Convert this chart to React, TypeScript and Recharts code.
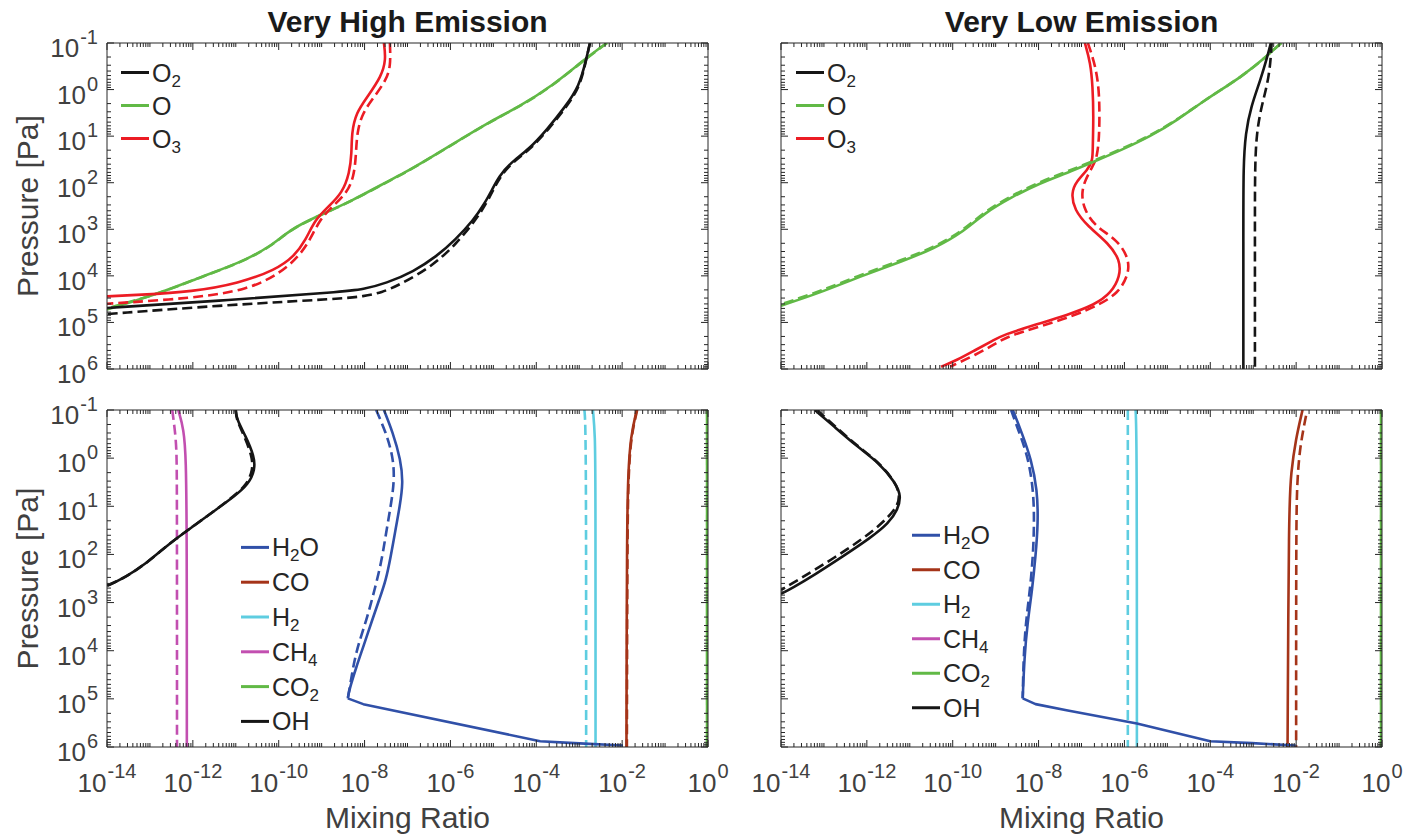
import React from 'react';
import { LineChart, Line, XAxis, YAxis, Legend } from 'recharts';

const FONT = "'Liberation Sans', Arial, Helvetica, sans-serif";
const TXT = '#404040';
const AXIS = '#262626';

const BLACK = '#151515';
const GREEN = '#61b946';
const RED = '#ec1c24';
const BLUE = '#3050a8';
const BROWN = '#a53419';
const CYAN = '#5ecde0';
const MAGENTA = '#c24fb0';

// axis tick labels (exponents of ten)
const xLabelExponents = [-14, -12, -10, -8, -6, -4, -2, 0];
const yLabelExponents = [-1, 0, 1, 2, 3, 4, 5, 6];
const minorMultipliers = [2, 3, 4, 5, 6, 7, 8, 9];

// ---------- Very High Emission : O2 / O / O3 ----------
const hiO2Mix = [1.78e-3, 1.45e-3, 1.0e-3, 4.79e-4, 1.78e-4, 6.61e-5, 2.45e-5, 1.35e-5, 9.33e-6, 6.31e-6, 3.47e-6, 1.29e-6, 4.79e-7, 1.38e-7, 3.16e-8, 9.33e-9, 3.02e-9, 7.24e-12, 1e-14];
const hiO2Pres = [0.1, 0.229, 0.851, 2.29, 7.24, 19.5, 38.0, 74.1, 141, 275, 631, 1698, 3802, 8128, 14450, 19500, 21880, 33110, 48980];
const hiO2MixD = [1.78e-3, 1.45e-3, 1.05e-3, 5.13e-4, 1.91e-4, 7.08e-5, 2.63e-5, 1.45e-5, 1.0e-5, 6.92e-6, 3.89e-6, 1.41e-6, 3.72e-7, 6.61e-8, 2.51e-8, 9.33e-9, 3.02e-9, 7.24e-12, 1e-14];
const hiO2PresD = [0.1, 0.229, 0.851, 2.29, 7.24, 19.5, 38.0, 74.1, 141, 275, 631, 1995, 6310, 15490, 22910, 27540, 30900, 41690, 66070];

const hiOMix = [4.37e-3, 1.29e-3, 2.29e-4, 4.07e-5, 7.24e-6, 1.66e-6, 3.72e-7, 8.51e-8, 2.45e-8, 5.62e-9, 7.94e-10, 1.78e-10, 6.61e-11, 1.175e-11, 1.66e-12, 1.78e-13, 1e-14];
const hiOPres = [0.1, 0.229, 0.851, 2.29, 5.25, 12.0, 27.5, 61.7, 110, 234, 525, 1023, 2344, 5370, 10230, 23440, 52480];
const hiOMixD = [4.47e-3, 1.32e-3, 2.34e-4, 4.17e-5, 7.41e-6, 1.70e-6, 3.8e-7, 8.71e-8, 2.51e-8, 5.75e-9, 8.13e-10, 1.82e-10, 6.76e-11, 1.2e-11, 1.7e-12, 1.82e-13, 1e-14];
const hiOPresD = [0.1, 0.229, 0.851, 2.29, 5.25, 12.0, 27.5, 61.7, 110, 234, 525, 1023, 2344, 5370, 10230, 23440, 50000];

const hiO3Mix = [2.82e-8, 3.16e-8, 2.45e-8, 1.175e-8, 6.31e-9, 5.01e-9, 5.01e-9, 4.47e-9, 3.02e-9, 1.45e-9, 6.92e-10, 4.27e-10, 2.29e-10, 8.51e-11, 1.175e-11, 1e-12, 5.25e-14, 1e-14];
const hiO3Pres = [0.1, 0.229, 0.525, 1.41, 3.16, 8.51, 22.9, 61.7, 166, 324, 631, 1698, 3802, 7413, 14450, 21880, 25700, 27540];
const hiO3MixD = [3.89e-8, 4.07e-8, 3.16e-8, 1.7e-8, 8.91e-9, 6.61e-9, 6.31e-9, 5.62e-9, 3.89e-9, 1.78e-9, 8.91e-10, 5.37e-10, 2.95e-10, 1.096e-10, 1.95e-11, 1e-12, 1e-14];
const hiO3PresD = [0.1, 0.316, 0.631, 1.41, 3.16, 8.51, 26.9, 74.1, 166, 324, 631, 1698, 3802, 8710, 19950, 30200, 39810];

// ---------- Very Low Emission : O2 / O / O3 ----------
const loO2Mix = [2.57e-3, 2.14e-3, 1.48e-3, 8.91e-4, 6.61e-4, 5.89e-4, 5.89e-4, 5.89e-4];
const loO2Pres = [0.1, 0.195, 0.617, 2.29, 8.51, 44.7, 1000, 1e6];
const loO2MixD = [2.69e-3, 2.4e-3, 1.55e-3, 1.2e-3, 1.096e-3, 1.096e-3, 1.096e-3];
const loO2PresD = [0.1, 0.525, 2.29, 8.51, 44.7, 1000, 1e6];

const loOMix = [4.47e-3, 1.86e-3, 5.5e-4, 7.59e-5, 1.74e-5, 3.98e-6, 8.91e-7, 2.04e-7, 4.68e-8, 1.072e-8, 2.45e-9, 5.5e-10, 1.62e-10, 3.72e-11, 6.61e-12, 7.08e-13, 7.76e-14, 1e-14];
const loOPres = [0.1, 0.209, 0.525, 1.66, 4.47, 10.2, 19.5, 34.7, 61.7, 102, 200, 447, 1202, 2570, 4898, 10230, 23440, 43650];
const loOPresD = [0.1, 0.209, 0.525, 1.66, 4.37, 9.77, 18.6, 33.1, 57.5, 95.5, 186, 417, 1122, 2399, 4571, 9550, 21880, 40740];

const loO3Mix = [1.2e-7, 1.62e-7, 1.82e-7, 1.91e-7, 1.82e-7, 1.82e-7, 1.41e-7, 7.59e-8, 5.75e-8, 6.76e-8, 1.41e-7, 4.27e-7, 7.94e-7, 7.94e-7, 4.9e-7, 2.04e-7, 4.68e-8, 8.32e-9, 1.48e-9, 9.12e-10, 3.39e-10, 1.26e-10, 5.37e-11];
const loO3Pres = [0.1, 0.269, 0.851, 3.8, 19.5, 32.4, 52.5, 93.3, 166, 380, 871, 1995, 4571, 10230, 23440, 41690, 69180, 112200, 186200, 239900, 389000, 645700, 891300];
const loO3MixD = [1.41e-7, 2.14e-7, 2.63e-7, 2.63e-7, 2.34e-7, 1.82e-7, 1.2e-7, 1.0e-7, 1.12e-7, 2.04e-7, 7.08e-7, 1.32e-6, 1.2e-6, 7.08e-7, 2.63e-7, 6.03e-8, 1.072e-8, 1.91e-9, 1.023e-9, 3.39e-10, 8.71e-11];
const loO3PresD = [0.1, 0.316, 1.175, 8.51, 27.5, 44.7, 89.1, 166, 355, 871, 1698, 4571, 10230, 23440, 41690, 74130, 123000, 199500, 281800, 501200, 891300];

// ---------- Very High Emission : H2O / CO / H2 / CH4 / CO2 / OH ----------
const hiOHMix = [1e-11, 1.047e-11, 1.7e-11, 2.69e-11, 2.82e-11, 1.95e-11, 9.33e-12, 3.47e-12, 1e-12, 2.95e-13, 8.51e-14, 2.51e-14, 1e-14];
const hiOHPres = [0.1, 0.155, 0.347, 0.912, 1.74, 3.55, 6.17, 11.75, 26.3, 57.5, 151, 309, 447];
const hiOHMixD = [1e-11, 1.023e-11, 1.58e-11, 2.4e-11, 2.51e-11, 1.82e-11, 8.91e-12, 3.47e-12, 1e-12, 2.95e-13, 8.51e-14, 2.51e-14, 1e-14];

const hiCH4Mix = [4.57e-13, 6.17e-13, 6.92e-13, 7.24e-13, 7.24e-13];
const hiCH4Pres = [0.1, 0.251, 1, 31.6, 1e6];
const hiCH4MixD = [3.31e-13, 3.8e-13, 4.17e-13, 4.27e-13, 4.27e-13];
const hiCH4PresD = [0.1, 0.251, 0.631, 3.16, 1e6];

// H2O: upper (smooth) part down to the kink near 1e5 Pa, then the near-surface part
const hiH2OUpMix = [2.82e-8, 4.57e-8, 6.92e-8, 7.94e-8, 6.61e-8, 5.25e-8, 4.07e-8, 3.16e-8, 2.19e-8, 1.51e-8, 9.33e-9, 6.46e-9, 4.37e-9, 4.07e-9];
const hiH2OUpPres = [0.1, 0.295, 1.072, 3.24, 10, 30.9, 110, 339, 871, 2291, 8318, 21380, 66070, 97720];
const hiH2OUpMixD = [1.86e-8, 3.16e-8, 4.57e-8, 5.01e-8, 4.07e-8, 3.16e-8, 2.45e-8, 1.7e-8, 1.175e-8, 7.24e-9, 5.62e-9, 4.68e-9, 4.07e-9];
const hiH2OUpPresD = [0.1, 0.295, 0.912, 2.75, 10, 36.3, 151, 550, 1950, 7079, 18200, 47860, 97720];
const hiH2OLowMix = [4.07e-9, 9.33e-9, 1.23e-4, 7.76e-4, 1.047e-2];
const hiH2OLowPres = [97720, 128800, 758600, 831800, 933300];

const hiH2Mix = [2.09e-3, 2.34e-3, 2.4e-3, 2.4e-3];
const hiH2Pres = [0.1, 0.316, 3.16, 1e6];
const hiH2MixD = [1.32e-3, 1.45e-3, 1.45e-3];
const hiH2PresD = [0.1, 0.251, 1e6];

const hiCOMix = [2.19e-2, 1.58e-2, 1.38e-2, 1.29e-2, 1.26e-2];
const hiCOPres = [0.1, 0.347, 2.04, 31.6, 1e6];
const hiCOMixD = [2.24e-2, 1.62e-2, 1.41e-2, 1.32e-2, 1.29e-2];

const hiCO2Mix = [0.95, 0.95];
const hiCO2MixD = [0.96, 0.96];
const fullPres = [0.1, 1e6];

// ---------- Very Low Emission : H2O / CO / H2 / CH4 / CO2 / OH ----------
const loOHMix = [6.17e-14, 1.66e-13, 5.75e-13, 1.95e-12, 4.68e-12, 6.31e-12, 5.25e-12, 3.24e-12, 1.2e-12, 2.75e-13, 6.17e-14, 1.82e-14, 1e-14];
const loOHPres = [0.1, 0.214, 0.562, 1.26, 3.24, 6.17, 11.75, 22.4, 45.7, 110, 263, 501, 661];
const loOHMixD = [6.92e-14, 1.78e-13, 6.03e-13, 2.0e-12, 4.68e-12, 6.03e-12, 4.79e-12, 1.55e-12, 3.47e-13, 6.17e-14, 1.41e-14, 1e-14];
const loOHPresD = [0.1, 0.214, 0.562, 1.26, 3.24, 6.17, 11.75, 30.9, 79.4, 209, 457, 550];

const loH2OUpMix = [2.51e-9, 4.07e-9, 6.76e-9, 9.33e-9, 9.77e-9, 8.51e-9, 7.08e-9, 5.5e-9, 4.68e-9, 4.27e-9];
const loH2OUpPres = [0.1, 0.295, 1.072, 4.47, 22.4, 110, 550, 2692, 13490, 97720];
const loH2OUpMixD = [2.29e-9, 3.55e-9, 5.62e-9, 7.59e-9, 7.94e-9, 7.41e-9, 6.31e-9, 5.01e-9, 4.47e-9, 4.27e-9];
const loH2OUpPresD = [0.1, 0.295, 0.912, 4.47, 22.4, 110, 550, 2692, 13490, 97720];
const loH2OLowMix = [4.27e-9, 8.51e-9, 4.79e-8, 1.95e-6, 1e-4, 9.33e-4, 9.77e-3];
const loH2OLowPres = [97720, 128800, 173800, 323600, 758600, 831800, 933300];

const loH2Mix = [1.82e-6, 1.95e-6, 1.95e-6];
const loH2Pres = [0.1, 0.398, 1e6];
const loH2MixD = [1.2e-6, 1.2e-6];

const loCOMix = [1.41e-2, 9.77e-3, 7.59e-3, 6.76e-3, 6.31e-3];
const loCOPres = [0.1, 0.407, 2.04, 10, 1e6];
const loCOMixD = [1.7e-2, 1.23e-2, 1.047e-2, 1.0e-2, 1.0e-2];
const loCOPresD = [0.132, 0.562, 3.24, 31.6, 1e6];

const loCO2Mix = [0.95, 0.95];
const loCO2MixD = [0.96, 0.96];

// legends
const topLegend = [
  { label: 'O_2', color: BLACK },
  { label: 'O', color: GREEN },
  { label: 'O_3', color: RED },
];
const bottomLegend = [
  { label: 'H_2O', color: BLUE },
  { label: 'CO', color: BROWN },
  { label: 'H_2', color: CYAN },
  { label: 'CH_4', color: MAGENTA },
  { label: 'CO_2', color: GREEN },
  { label: 'OH', color: BLACK },
];

type Curve = 'basis' | 'linear';
type Series = { mix: number[]; pres: number[]; color: string; dashed: boolean; curve: Curve };
const zip = (mix: number[], pres: number[]) => mix.map((v, i) => ({ v, p: pres[i] }));

const topHigh: Series[] = [
  { mix: hiOMix, pres: hiOPres, color: GREEN, dashed: false, curve: 'basis' },
  { mix: hiOMixD, pres: hiOPresD, color: GREEN, dashed: true, curve: 'basis' },
  { mix: hiO3Mix, pres: hiO3Pres, color: RED, dashed: false, curve: 'basis' },
  { mix: hiO3MixD, pres: hiO3PresD, color: RED, dashed: true, curve: 'basis' },
  { mix: hiO2Mix, pres: hiO2Pres, color: BLACK, dashed: false, curve: 'basis' },
  { mix: hiO2MixD, pres: hiO2PresD, color: BLACK, dashed: true, curve: 'basis' },
];
const topLow: Series[] = [
  { mix: loO3Mix, pres: loO3Pres, color: RED, dashed: false, curve: 'basis' },
  { mix: loO3MixD, pres: loO3PresD, color: RED, dashed: true, curve: 'basis' },
  { mix: loOMix, pres: loOPres, color: GREEN, dashed: false, curve: 'basis' },
  { mix: loOMix, pres: loOPresD, color: GREEN, dashed: true, curve: 'basis' },
  { mix: loO2Mix, pres: loO2Pres, color: BLACK, dashed: false, curve: 'basis' },
  { mix: loO2MixD, pres: loO2PresD, color: BLACK, dashed: true, curve: 'basis' },
];
const bottomHigh: Series[] = [
  { mix: hiCO2Mix, pres: fullPres, color: GREEN, dashed: false, curve: 'linear' },
  { mix: hiCO2MixD, pres: fullPres, color: GREEN, dashed: true, curve: 'linear' },
  { mix: hiCOMix, pres: hiCOPres, color: BROWN, dashed: false, curve: 'basis' },
  { mix: hiCOMixD, pres: hiCOPres, color: BROWN, dashed: true, curve: 'basis' },
  { mix: hiH2Mix, pres: hiH2Pres, color: CYAN, dashed: false, curve: 'basis' },
  { mix: hiH2MixD, pres: hiH2PresD, color: CYAN, dashed: true, curve: 'basis' },
  { mix: hiCH4Mix, pres: hiCH4Pres, color: MAGENTA, dashed: false, curve: 'basis' },
  { mix: hiCH4MixD, pres: hiCH4PresD, color: MAGENTA, dashed: true, curve: 'basis' },
  { mix: hiOHMix, pres: hiOHPres, color: BLACK, dashed: false, curve: 'basis' },
  { mix: hiOHMixD, pres: hiOHPres, color: BLACK, dashed: true, curve: 'basis' },
  { mix: hiH2OUpMixD, pres: hiH2OUpPresD, color: BLUE, dashed: true, curve: 'basis' },
  { mix: hiH2OUpMix, pres: hiH2OUpPres, color: BLUE, dashed: false, curve: 'basis' },
  { mix: hiH2OLowMix, pres: hiH2OLowPres, color: BLUE, dashed: false, curve: 'linear' },
];
const bottomLow: Series[] = [
  { mix: loCO2Mix, pres: fullPres, color: GREEN, dashed: false, curve: 'linear' },
  { mix: loCO2MixD, pres: fullPres, color: GREEN, dashed: true, curve: 'linear' },
  { mix: loCOMix, pres: loCOPres, color: BROWN, dashed: false, curve: 'basis' },
  { mix: loCOMixD, pres: loCOPresD, color: BROWN, dashed: true, curve: 'basis' },
  { mix: loH2Mix, pres: loH2Pres, color: CYAN, dashed: false, curve: 'basis' },
  { mix: loH2MixD, pres: fullPres, color: CYAN, dashed: true, curve: 'linear' },
  { mix: loOHMix, pres: loOHPres, color: BLACK, dashed: false, curve: 'basis' },
  { mix: loOHMixD, pres: loOHPresD, color: BLACK, dashed: true, curve: 'basis' },
  { mix: loH2OUpMixD, pres: loH2OUpPresD, color: BLUE, dashed: true, curve: 'basis' },
  { mix: loH2OUpMix, pres: loH2OUpPres, color: BLUE, dashed: false, curve: 'basis' },
  { mix: loH2OLowMix, pres: loH2OLowPres, color: BLUE, dashed: false, curve: 'linear' },
];

// tick positions (decades + minor 2..9)
const xTicks: number[] = [];
for (let e = -14; e <= 0; e++) {
  xTicks.push(Math.pow(10, e));
  if (e < 0) minorMultipliers.forEach((m) => xTicks.push(m * Math.pow(10, e)));
}
const yTicks: number[] = [];
for (let e = -1; e <= 6; e++) {
  yTicks.push(Math.pow(10, e));
  if (e < 6) minorMultipliers.forEach((m) => yTicks.push(m * Math.pow(10, e)));
}

const decadeExp = (v: number) => {
  const l = Math.log10(v);
  const r = Math.round(l);
  return Math.abs(l - r) < 1e-6 ? r : null;
};

const TICK_FS = 26;
const SUP_FS = 20;

const makeXTick = (side: 'bottom' | 'top', showLabel: boolean) => (props: any) => {
  const { x, y, payload } = props;
  const e = decadeExp(payload.value);
  const labeled = e !== null && xLabelExponents.includes(e);
  const len = labeled ? 7 : 4;
  const y2 = side === 'bottom' ? y - len : y + len;
  return (
    <g>
      <line x1={x} x2={x} y1={y} y2={y2} stroke={AXIS} strokeWidth={1} />
      {showLabel && labeled && side === 'bottom' ? (
        <text x={x} y={y + 45} textAnchor="middle" fontFamily={FONT} fontSize={TICK_FS} fill={TXT}>
          <tspan>10</tspan>
          <tspan dx={1} dy={-14} fontSize={SUP_FS}>{String(e)}</tspan>
        </text>
      ) : null}
    </g>
  );
};

const makeYTick = (side: 'left' | 'right', showLabel: boolean) => (props: any) => {
  const { x, y, payload } = props;
  const e = decadeExp(payload.value);
  const labeled = e !== null && yLabelExponents.includes(e);
  const len = labeled ? 7 : 4;
  const x2 = side === 'left' ? x + len : x - len;
  return (
    <g>
      <line x1={x} x2={x2} y1={y} y2={y} stroke={AXIS} strokeWidth={1} />
      {showLabel && labeled && side === 'left' ? (
        <text x={x - 9} y={y + 14} textAnchor="end" fontFamily={FONT} fontSize={TICK_FS} fill={TXT}>
          <tspan>10</tspan>
          <tspan dx={1} dy={-13} fontSize={SUP_FS}>{String(e)}</tspan>
        </text>
      ) : null}
    </g>
  );
};

function chem(label: string) {
  const out: React.ReactNode[] = [];
  let i = 0;
  let k = 0;
  let afterSub = false;
  while (i < label.length) {
    if (label[i] === '_') {
      out.push(
        <tspan key={k++} fontSize={17} dy={5}>
          {label[i + 1]}
        </tspan>
      );
      afterSub = true;
      i += 2;
    } else {
      let j = i;
      while (j < label.length && label[j] !== '_') j++;
      out.push(
        <tspan key={k++} fontSize={25} dy={afterSub ? -5 : 0}>
          {label.slice(i, j)}
        </tspan>
      );
      afterSub = false;
      i = j;
    }
  }
  return out;
}

function LegendBox({ items, rowH }: { items: { label: string; color: string }[]; rowH: number }) {
  return (
    <svg width={140} height={items.length * rowH} style={{ display: 'block', overflow: 'visible' }}>
      {items.map((it, i) => {
        const cy = rowH / 2 + i * rowH;
        return (
          <g key={i}>
            <line x1={0} x2={28} y1={cy} y2={cy} stroke={it.color} strokeWidth={3} />
            <text x={31} y={cy + 9} fontFamily={FONT} fontSize={25} fill="#262626">
              {chem(it.label)}
            </text>
          </g>
        );
      })}
    </svg>
  );
}

type PanelProps = {
  left: number;
  top: number;
  width: number;
  height: number;
  margin: { top: number; right: number; bottom: number; left: number };
  yAxisWidth: number;
  xAxisHeight: number;
  showY: boolean;
  showX: boolean;
  series: Series[];
  legend: { label: string; color: string }[];
  legendLeft: number;
  legendTop: number;
  rowH: number;
};

function Panel(p: PanelProps) {
  return (
    <div style={{ position: 'absolute', left: p.left, top: p.top, width: p.width, height: p.height }}>
      <LineChart width={p.width} height={p.height} margin={p.margin}>
        <XAxis
          xAxisId="b"
          dataKey="v"
          type="number"
          scale="log"
          domain={[1e-14, 1]}
          allowDataOverflow
          ticks={xTicks}
          interval={0}
          height={p.xAxisHeight}
          tickSize={0}
          tickMargin={0}
          tickLine={false}
          axisLine={{ stroke: AXIS, strokeWidth: 1 }}
          tick={makeXTick('bottom', p.showX)}
        />
        <XAxis
          xAxisId="t"
          orientation="top"
          dataKey="v"
          type="number"
          scale="log"
          domain={[1e-14, 1]}
          allowDataOverflow
          ticks={xTicks}
          interval={0}
          height={1}
          tickSize={0}
          tickMargin={0}
          tickLine={false}
          axisLine={{ stroke: AXIS, strokeWidth: 1 }}
          tick={makeXTick('top', false)}
        />
        <YAxis
          yAxisId="l"
          type="number"
          scale="log"
          domain={[0.1, 1e6]}
          allowDataOverflow
          reversed
          ticks={yTicks}
          interval={0}
          width={p.yAxisWidth}
          tickSize={0}
          tickMargin={0}
          tickLine={false}
          axisLine={{ stroke: AXIS, strokeWidth: 1 }}
          tick={makeYTick('left', p.showY)}
        />
        <YAxis
          yAxisId="r"
          orientation="right"
          type="number"
          scale="log"
          domain={[0.1, 1e6]}
          allowDataOverflow
          reversed
          ticks={yTicks}
          interval={0}
          width={1}
          tickSize={0}
          tickMargin={0}
          tickLine={false}
          axisLine={{ stroke: AXIS, strokeWidth: 1 }}
          tick={makeYTick('right', false)}
        />
        {p.series.map((s, i) => (
          <Line
            key={i}
            xAxisId="b"
            yAxisId="l"
            data={zip(s.mix, s.pres)}
            dataKey="p"
            type={s.curve}
            stroke={s.color}
            strokeWidth={2.6}
            strokeDasharray={s.dashed ? '10 5' : undefined}
            strokeLinejoin="round"
            dot={false}
            activeDot={false}
            isAnimationActive={false}
          />
        ))}
        <Legend
          layout="vertical"
          align="center"
          verticalAlign="middle"
          wrapperStyle={{ left: p.legendLeft, top: p.legendTop, width: 140 }}
          content={() => <LegendBox items={p.legend} rowH={p.rowH} />}
        />
      </LineChart>
    </div>
  );
}

export default function App() {
  return (
    <div
      style={{
        position: 'absolute',
        left: 0,
        top: 0,
        width: 1420,
        height: 837,
        background: '#ffffff',
        overflow: 'hidden',
      }}
    >
      <Panel
        left={0}
        top={0}
        width={730}
        height={400}
        margin={{ top: 42, right: 21, bottom: 0, left: 0 }}
        yAxisWidth={107}
        xAxisHeight={31}
        showY
        showX={false}
        series={topHigh}
        legend={topLegend}
        legendLeft={121}
        legendTop={55.5}
        rowH={33}
      />
      <Panel
        left={718}
        top={0}
        width={702}
        height={400}
        margin={{ top: 42, right: 37, bottom: 0, left: 0 }}
        yAxisWidth={63}
        xAxisHeight={31}
        showY={false}
        showX={false}
        series={topLow}
        legend={topLegend}
        legendLeft={77.5}
        legendTop={55.5}
        rowH={33}
      />
      <Panel
        left={0}
        top={380}
        width={730}
        height={457}
        margin={{ top: 29, right: 21, bottom: 0, left: 0 }}
        yAxisWidth={107}
        xAxisHeight={90}
        showY
        showX
        series={bottomHigh}
        legend={bottomLegend}
        legendLeft={241}
        legendTop={149.6}
        rowH={34.8}
      />
      <Panel
        left={718}
        top={380}
        width={702}
        height={457}
        margin={{ top: 29, right: 37, bottom: 0, left: 0 }}
        yAxisWidth={63}
        xAxisHeight={90}
        showY={false}
        showX
        series={bottomLow}
        legend={bottomLegend}
        legendLeft={194}
        legendTop={138.25}
        rowH={34.5}
      />
      <svg
        width={1420}
        height={837}
        style={{ position: 'absolute', left: 0, top: 0, pointerEvents: 'none' }}
      >
        <text x={407.5} y={32} textAnchor="middle" fontFamily={FONT} fontWeight="bold" fontSize={30} fill="#1a1a1a">
          Very High Emission
        </text>
        <text x={1081.5} y={32} textAnchor="middle" fontFamily={FONT} fontWeight="bold" fontSize={30} fill="#1a1a1a">
          Very Low Emission
        </text>
        <text transform="translate(38,206) rotate(-90)" textAnchor="middle" fontFamily={FONT} fontSize={30} fill={TXT}>
          Pressure [Pa]
        </text>
        <text transform="translate(38,578.5) rotate(-90)" textAnchor="middle" fontFamily={FONT} fontSize={30} fill={TXT}>
          Pressure [Pa]
        </text>
        <text x={407.5} y={828} textAnchor="middle" fontFamily={FONT} fontSize={30} fill={TXT}>
          Mixing Ratio
        </text>
        <text x={1081.5} y={828} textAnchor="middle" fontFamily={FONT} fontSize={30} fill={TXT}>
          Mixing Ratio
        </text>
      </svg>
    </div>
  );
}
